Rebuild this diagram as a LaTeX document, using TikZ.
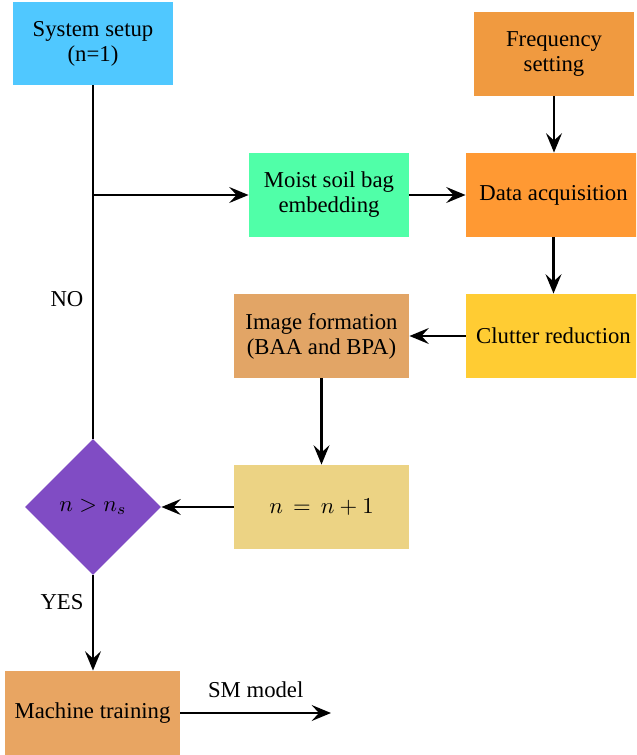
\documentclass[tikz,border=0pt]{standalone}
\usepackage{fontspec}
\setmainfont{Liberation Serif}
\usetikzlibrary{shapes.geometric,arrows.meta}
\definecolor{cSys}{RGB}{80,200,255}
\definecolor{cFreq}{RGB}{240,154,64}
\definecolor{cMoist}{RGB}{80,255,168}
\definecolor{cData}{RGB}{255,153,51}
\definecolor{cClut}{RGB}{255,204,51}
\definecolor{cImg}{RGB}{226,165,102}
\definecolor{cInc}{RGB}{236,211,132}
\definecolor{cDec}{RGB}{128,76,196}
\definecolor{cMT}{RGB}{232,165,98}
\tikzset{
  box/.style={rectangle, draw=none, inner sep=1pt, align=center, font=\fontsize{10}{11}\selectfont},
  dia/.style={diamond, draw=none, inner sep=0pt, minimum width=136*0.44pt, minimum height=136*0.44pt, font=\fontsize{10}{11}\selectfont},
  arr/.style={line width=1.1pt, -{Stealth[length=8.5pt,width=7pt,inset=3.2pt]}},
  ln/.style={line width=1.1pt},
  lbl/.style={font=\fontsize{10}{11}\selectfont, inner sep=0pt}
}
\begin{document}
\begin{tikzpicture}[x=0.44pt,y=-0.44pt]
\clip (0,0) rectangle (636,755);
\node[box, fill=cSys, minimum width=160*0.44pt, minimum height=83*0.44pt] (sys) at (93,43.5) {System setup\\(n=1)};
\node[box, fill=cFreq, minimum width=160*0.44pt, minimum height=84*0.44pt] (freq) at (554,54) {Frequency\\setting};
\node[box, fill=cMoist, minimum width=160*0.44pt, minimum height=84*0.44pt] (moist) at (329,195) {Moist soil bag\\embedding};
\node[box, fill=cData, minimum width=175*0.44pt, minimum height=84*0.44pt] (data) at (553.5,195) {Data acquisition};
\node[box, fill=cClut, minimum width=175*0.44pt, minimum height=84*0.44pt] (clut) at (553.5,336) {Clutter reduction};
\node[box, fill=cImg, minimum width=175*0.44pt, minimum height=84*0.44pt] (img) at (321.5,336) {Image formation\\(BAA and BPA)};
\node[box, fill=cInc, minimum width=175*0.44pt, minimum height=84*0.44pt] (inc) at (321.5,507) {$n \,=\, n+1$};
\node[dia, fill=cDec] (dec) at (93,507) {$n > n_s$};
\node[box, fill=cMT, minimum width=175*0.44pt, minimum height=84*0.44pt] (mt) at (92.5,713) {Machine training};
\coordinate (br) at (sys.south |- moist.west);
\coordinate (out) at (331,713);

\draw[ln] (sys.south) -- (dec.north);
\draw[arr] (br) -- (moist.west);
\draw[arr] (moist.east) -- (data.west);
\draw[arr] (freq.south) -- (freq.south |- data.north);
\draw[arr] (data.south) -- (clut.north);
\draw[arr] (clut.west) -- (img.east);
\draw[arr] (img.south) -- (inc.north);
\draw[arr] (inc.west) -- (dec.east);
\draw[arr] (dec.south) -- (dec.south |- mt.north);
\draw[arr] (mt.east) -- node[lbl, above=6pt] {SM model} (out);

\node[lbl] (no) at (67,299) {NO};
\node[lbl] (yes) at (62,602) {YES};
\end{tikzpicture}
\end{document}
